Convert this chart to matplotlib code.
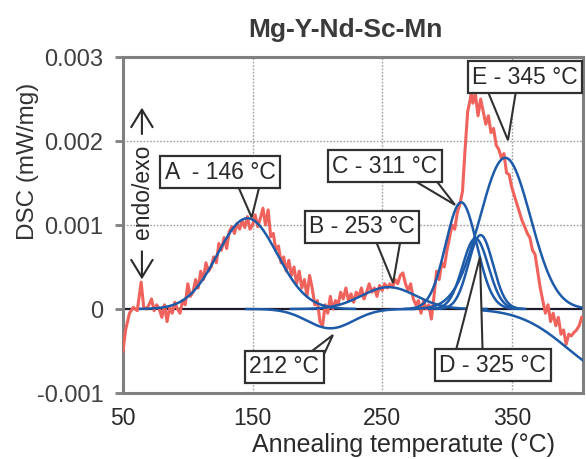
import numpy as np
import matplotlib
matplotlib.use("Agg")
import matplotlib.pyplot as plt
from matplotlib.patches import Polygon, FancyArrowPatch

plt.rcParams['font.family'] = ['Liberation Sans', 'DejaVu Sans']

# ---------------- data ----------------
title = "Mg-Y-Nd-Sc-Mn"
xlabel = "Annealing temperatute (°C)"
ylabel = "DSC (mW/mg)"
x_ticks = [50, 150, 250, 350]
y_ticks = [-1, 0, 1, 2, 3]                       # in units of 0.001 mW/mg
y_ticklabels = ["-0.001", "0", "0.001", "0.002", "0.003"]

# measured DSC signal (units of 0.001 mW/mg)
dsc_T = [50, 52, 55, 58, 61, 64, 66, 68, 70, 72, 74, 76, 78, 80, 82, 84, 86, 88, 90,
         92, 94, 96, 98, 100, 102, 104, 106, 108, 110, 112, 114, 116, 118, 120, 122,
         124, 126, 128, 130, 132, 134, 136, 138, 140, 142, 144, 146, 148, 150, 152,
         154, 156, 158, 160, 162, 164, 166, 168, 170, 172, 174, 176, 178, 180, 182,
         184, 186, 188, 190, 192, 194, 196, 198, 200, 202, 204, 206, 208, 210, 212,
         214, 216, 218, 220, 222, 224, 226, 228, 230, 232, 234, 236, 238, 240, 242,
         244, 246, 248, 250, 252, 254, 256, 258, 260, 262, 264, 266, 268, 270, 272,
         274, 276, 278, 280, 282, 284, 286, 288, 290, 292, 294, 296, 298, 300, 302,
         304, 306, 308, 310, 312, 314, 316, 318, 319, 320, 322, 324, 326, 328, 330,
         332, 334, 336, 338, 340, 342, 344, 346, 348, 350, 352, 354, 356, 358, 360,
         362, 364, 366, 368, 370, 372, 374, 376, 378, 380, 382, 384, 386, 388, 390,
         392, 394, 396, 398, 400, 402, 404]
dsc_V = [-0.50, -0.25, -0.05, 0.02, -0.02, 0.32, 0.02, 0.00, 0.05, 0.12, -0.02, 0.05,
         0.00, -0.10, 0.05, -0.15, 0.02, -0.05, 0.08, 0.00, -0.05, 0.10, 0.05, 0.30,
         0.15, 0.20, 0.35, 0.25, 0.45, 0.35, 0.55, 0.45, 0.50, 0.62, 0.55, 0.78, 0.70,
         0.85, 0.72, 0.92, 0.98, 0.90, 1.02, 0.95, 1.05, 0.97, 1.10, 0.95, 1.00, 1.12,
         0.98, 1.08, 1.20, 1.00, 1.18, 0.86, 0.90, 0.70, 0.75, 0.55, 0.62, 0.45, 0.58,
         0.40, 0.50, 0.30, 0.45, 0.25, 0.35, 0.15, 0.40, 0.25, 0.05, 0.10, -0.15, -0.20,
         0.05, -0.05, 0.15, 0.00, 0.10, 0.05, 0.20, 0.12, 0.25, 0.10, 0.18, 0.08, 0.20,
         0.15, 0.25, 0.12, 0.20, 0.30, 0.20, 0.25, 0.15, 0.28, 0.22, 0.30, 0.25, 0.30,
         0.26, 0.35, 0.30, 0.40, 0.43, 0.30, 0.22, 0.30, 0.12, 0.05, 0.10, -0.05, 0.10,
         0.00, 0.05, -0.12, 0.15, 0.45, 0.35, 0.55, 0.50, 0.70, 0.85, 1.00, 0.95, 1.15,
         1.25, 1.40, 1.90, 2.35, 2.50, 2.60, 2.45, 2.55, 2.30, 2.50, 2.35, 2.20, 2.30,
         2.10, 2.15, 1.95, 1.90, 1.80, 1.85, 1.62, 1.60, 1.45, 1.35, 1.25, 1.15, 1.05,
         0.98, 0.90, 0.85, 0.70, 0.65, 0.45, 0.25, 0.10, -0.05, 0.05, -0.15, -0.05,
         -0.20, -0.10, -0.30, -0.25, -0.42, -0.30, -0.32, -0.28, -0.25, -0.20, -0.10]

# fitted peak components: centre (°C), height (0.001 mW/mg), width (°C)
peak_names = ["A", "212", "B", "C", "D", "D2", "E"]
peak_centers = [146, 210, 255, 311, 326, 322, 345]
peak_heights = [1.08, -0.23, 0.26, 1.27, 0.88, 0.84, 1.80]
peak_widths = [23, 18, 21, 12, 9.5, 10, 19.5]
# broad baseline drift on the right
tail_center, tail_height, tail_width, tail_start = 430, -0.77, 37, 325

# annotation callouts: label, box centre (T, V), tip (T, V), wedge base T-range
ann_labels = ["A  - 146 °C", "B - 253 °C", "C - 311 °C", "E - 345 °C", "D - 325 °C", "212 °C"]
ann_box = [(125.2, 1.63), (234.5, 0.98), (252.2, 1.70), (360.2, 2.76), (335.2, -0.67), (174.3, -0.69)]
ann_tip = [(149.3, 1.09), (258.4, 0.31), (306.2, 1.24), (347.1, 2.01), (325.5, 0.62), (212.0, -0.31)]
ann_base = [(134.0, 158.0), (240.6, 266.0), (256.0, 283.0), (327.0, 355.0), (304.0, 327.8), (179.7, 200.5)]

# ---------------- figure ----------------
W, H = 586, 459
fig = plt.figure(figsize=(W / 100, H / 100), dpi=100)
ax = fig.add_axes([123 / W, (H - 393) / H, (583 - 123) / W, (393 - 57) / H])
ax.set_xlim(50, 405)
ax.set_ylim(-1, 3)

grid_c = '#a0a0a0'
for t in [150, 250, 350]:
    ax.axvline(t, color=grid_c, lw=1.0, ls=(0, (1.2, 1.2)), zorder=1)
for v in [1, 2]:
    ax.axhline(v, color=grid_c, lw=1.0, ls=(0, (1.2, 1.2)), zorder=1)
ax.axhline(0, color='#1b1b2b', lw=1.6, zorder=2)

red = '#f0625c'
blue = '#1d5aa8'
ax.plot(dsc_T, dsc_V, color=red, lw=2.2, zorder=3)

for c, h, w in zip(peak_centers, peak_heights, peak_widths):
    T = np.linspace(c - 3.6 * w, c + 3.6 * w, 300)
    ax.plot(T, h * np.exp(-(T - c) ** 2 / (2 * w ** 2)), color=blue, lw=1.8, zorder=4)
Tt = np.linspace(tail_start, 405, 200)
ax.plot(Tt, tail_height * np.exp(-(Tt - tail_center) ** 2 / (2 * tail_width ** 2)),
        color=blue, lw=1.8, zorder=4)

# callouts
edge = '#303030'
for lab, (bx, by), (tx, ty), (b0, b1) in zip(ann_labels, ann_box, ann_tip, ann_base):
    poly = Polygon([(b0, by), (tx, ty), (b1, by)], closed=True, fc='white', ec=edge,
                   lw=1.5, zorder=6, joinstyle='miter')
    ax.add_patch(poly)
    ax.text(bx, by, lab, ha='center', va='center', fontsize=16.5, color='#2a2a2a', zorder=7,
            bbox=dict(boxstyle='square,pad=0.2', fc='white', ec=edge, lw=1.6))

# endo / exo arrow
ax.text(64.8, 1.39, "endo/exo", rotation=90, ha='center', va='center', fontsize=16.5,
        color='#2a2a2a', zorder=7)
for y0, y1 in [(2.05, 2.43), (0.72, 0.32)]:
    ax.add_patch(FancyArrowPatch((64.6, y0), (64.6, y1), arrowstyle='->,head_length=0.9,head_width=0.55',
                                 mutation_scale=14, color='#2a2a2a', lw=1.5, zorder=7))

# axes styling
for s in ax.spines.values():
    s.set_color('#808080')
    s.set_linewidth(2.2)
ax.set_xticks(x_ticks)
ax.set_yticks(y_ticks)
ax.set_yticklabels(y_ticklabels)
ax.tick_params(axis='x', length=0, pad=10, labelsize=16.5, labelcolor='#2a2a2a')
ax.tick_params(axis='y', length=6, width=2, color='#808080', pad=8, labelsize=17,
               labelcolor='#404040')

fig.text(345 / W, 1 - 30 / H, title, ha='center', va='center', fontsize=19,
         fontweight='bold', color='#3a3a3a')
fig.text(28 / W, 1 - 161 / H, ylabel, rotation=90, ha='center', va='center', fontsize=17.5,
         color='#333333')
fig.text(404 / W, 7 / H, xlabel, ha='center', va='baseline', fontsize=18, color='#2a2a2a')

fig.savefig("out.png", dpi=100)
